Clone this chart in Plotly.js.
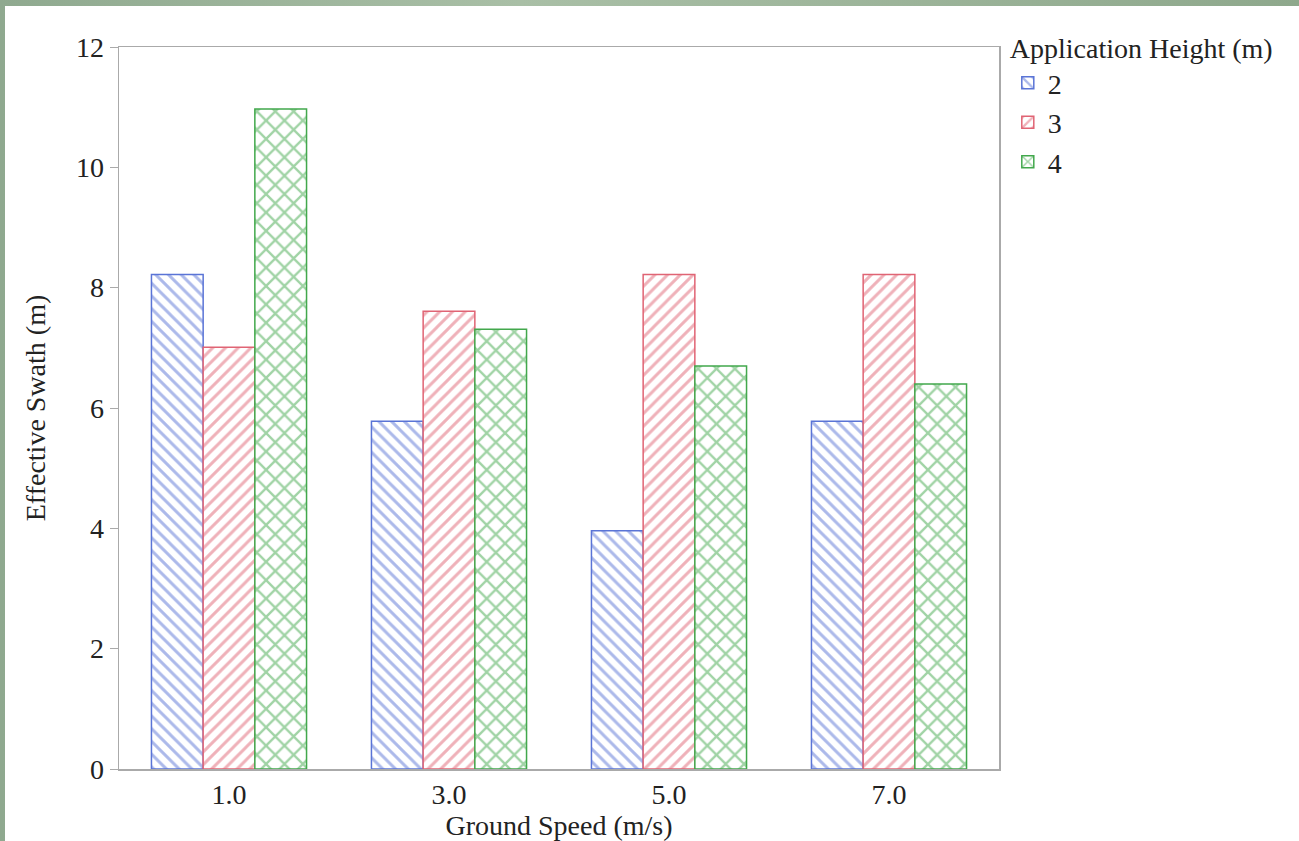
<!DOCTYPE html>
<html><head><meta charset="utf-8">
<script src="https://cdn.plot.ly/plotly-3.0.1.min.js"></script>
<style>
html,body{margin:0;padding:0;width:1299px;height:841px;overflow:hidden;background:linear-gradient(90deg,#8fa98f,#a9bfa6 40%,#8ea88c);}
#frame{position:absolute;left:5px;top:6px;width:1294px;height:835px;background:#fff;}
#chart{width:1294px;height:835px;}
</style></head>
<body><div id="frame"><div id="chart"></div></div>
<script>
const categories = ["1.0", "3.0", "5.0", "7.0"];
const seriesNames = ["2", "3", "4"];
const height2 = [8.22, 5.78, 3.96, 5.78];
const height3 = [7.01, 7.61, 8.22, 8.22];
const height4 = [10.97, 7.31, 6.70, 6.40];
const yTicks = [0, 2, 4, 6, 8, 10, 12];

const colors = ["#5a74d6", "#e06474", "#42a84c"];
const shapes = ["\\", "/", "x"];
const sizes = [9, 9, 13];
const values = [height2, height3, height4];

const traces = values.map((v, i) => ({
  type: "bar",
  name: seriesNames[i],
  x: categories,
  y: v,
  marker: {
    color: "#ffffff",
    line: {color: colors[i], width: 1.5},
    pattern: {shape: shapes[i], fgcolor: colors[i], bgcolor: "#ffffff", size: sizes[i], solidity: 0.33, fillmode: "overlay"}
  },
  hoverinfo: "x+y+name"
}));

const font = {family: "Liberation Serif, Times New Roman, serif", size: 28, color: "#222"};

const layout = {
  width: 1294, height: 835,
  margin: {l: 114, r: 300, t: 41, b: 72},
  paper_bgcolor: "#ffffff",
  plot_bgcolor: "#ffffff",
  font: font,
  barmode: "group",
  bargap: 0.295,
  bargroupgap: 0,
  showlegend: true,
  legend: {
    x: 1.01, xanchor: "left", y: 1.035, yanchor: "top",
    title: {text: "Application Height (m)", font: font},
    font: font, itemwidth: 30, tracegroupgap: 0,
    bgcolor: "rgba(0,0,0,0)"
  },
  xaxis: {
    type: "category",
    range: [-0.5, 3.5],
    title: {text: "Ground Speed (m/s)", font: font, standoff: 5},
    showline: true, mirror: true, linecolor: "#aaaaaa", linewidth: 1.5,
    ticks: "outside", ticklen: 0, tickcolor: "#aaaaaa",
    showgrid: false, zeroline: false, tickfont: font
  },
  yaxis: {
    range: [0, 12],
    tickvals: yTicks,
    title: {text: "Effective Swath (m)", font: font, standoff: 22},
    showline: true, mirror: true, linecolor: "#aaaaaa", linewidth: 1.5,
    ticks: "outside", ticklen: 8, tickcolor: "#aaaaaa",
    showgrid: false, zeroline: false, tickfont: font
  }
};

Plotly.newPlot("chart", traces, layout, {displayModeBar: false, staticPlot: true});
</script>
</body></html>
